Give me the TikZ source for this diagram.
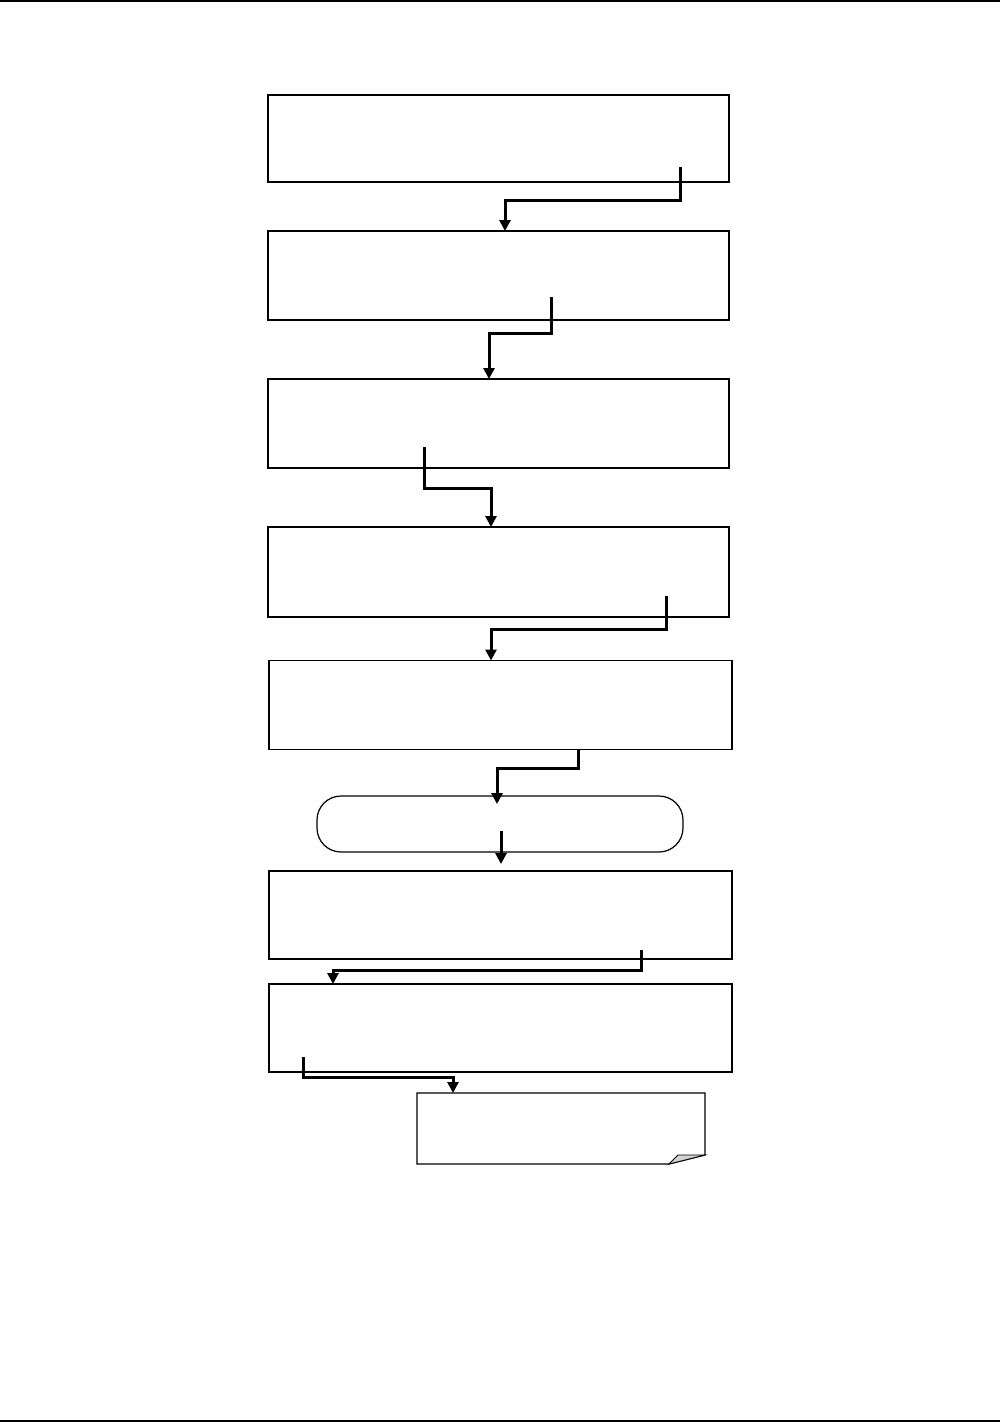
\documentclass[tikz,border=0pt]{standalone}
\usetikzlibrary{arrows.meta}
\begin{document}
\begin{tikzpicture}[x=1pt,y=-1pt,
  box/.style={draw,line width=1.2pt,rectangle,inner sep=0pt,outer sep=0pt},
  term/.style={draw,line width=1.2pt,rectangle,rounded corners=24pt,inner sep=0pt,outer sep=0pt},
  arr/.style={line width=3pt,line join=miter,-{Triangle[length=11pt,width=11pt]}},
  rule/.style={line width=1.6pt}]
\useasboundingbox (0,0) rectangle (1005,1422);
\draw[rule] (0,1) -- (1000,1);
\draw[rule] (0,1421) -- (1000,1421);

\node[box,minimum width=461pt,minimum height=87pt] (b1) at (498.5,138.5) {};
\node[box,minimum width=461pt,minimum height=89pt] (b2) at (498.5,275.5) {};
\node[box,minimum width=461pt,minimum height=89pt] (b3) at (498.5,423.5) {};
\node[box,minimum width=461pt,minimum height=90pt] (b4) at (498.5,572) {};
\node[box,minimum width=463pt,minimum height=89pt] (b5) at (500.5,705) {};
\node[term,minimum width=366pt,minimum height=56pt] (t) at (500,824) {};
\node[box,minimum width=463pt,minimum height=88pt] (b6) at (500.5,915) {};
\node[box,minimum width=463pt,minimum height=88pt] (b7) at (500.5,1028) {};
\node[inner sep=0pt,outer sep=0pt,minimum width=288pt,minimum height=71pt] (n) at (561,1128.5) {};
\draw[line width=1.2pt,line join=miter] (n.north west) -- (n.north east) -- ([yshift=9pt]n.south east)
  -- ([xshift=-36pt]n.south east) -- (n.south west) -- cycle;
\filldraw[line width=0.8pt,fill=gray!35] ([xshift=-36pt]n.south east) -- ([xshift=-27pt,yshift=9pt]n.south east)
  -- ([yshift=9pt]n.south east) -- cycle;

% connector start points and bends
\coordinate (s1) at (680,167);  \coordinate (m1) at (505,200);
\coordinate (s2) at (551,297);  \coordinate (m2) at (489,333);
\coordinate (s3) at (424,447);  \coordinate (m3) at (491,488);
\coordinate (s4) at (666,596);  \coordinate (m4) at (491,629);
\coordinate (s5) at (578,749);  \coordinate (m5) at (497,768);
\coordinate (s6) at (501,831);  \coordinate (m6) at (501,831);
\coordinate (s7) at (641,950);  \coordinate (m7) at (333,970);
\coordinate (s8) at (303,1057); \coordinate (m8) at (453,1077);

\draw[arr] (s1) |- (m1) -- (m1 |- b2.north);
\draw[arr] (s2) |- (m2) -- (m2 |- b3.north);
\draw[arr] (s3) |- (m3) -- (m3 |- b4.north);
\draw[arr] (s4) |- (m4) -- (m4 |- b5.north);
\draw[arr] (s5) |- (m5) -- ([yshift=-8pt]m5 |- t.north);
\draw[arr] (s6) -- ([yshift=7pt]m6 |- b6.north);
\draw[arr] (s7) |- (m7) -- (m7 |- b7.north);
\draw[arr] (s8) |- (m8) -- (m8 |- n.north);
\end{tikzpicture}
\end{document}
